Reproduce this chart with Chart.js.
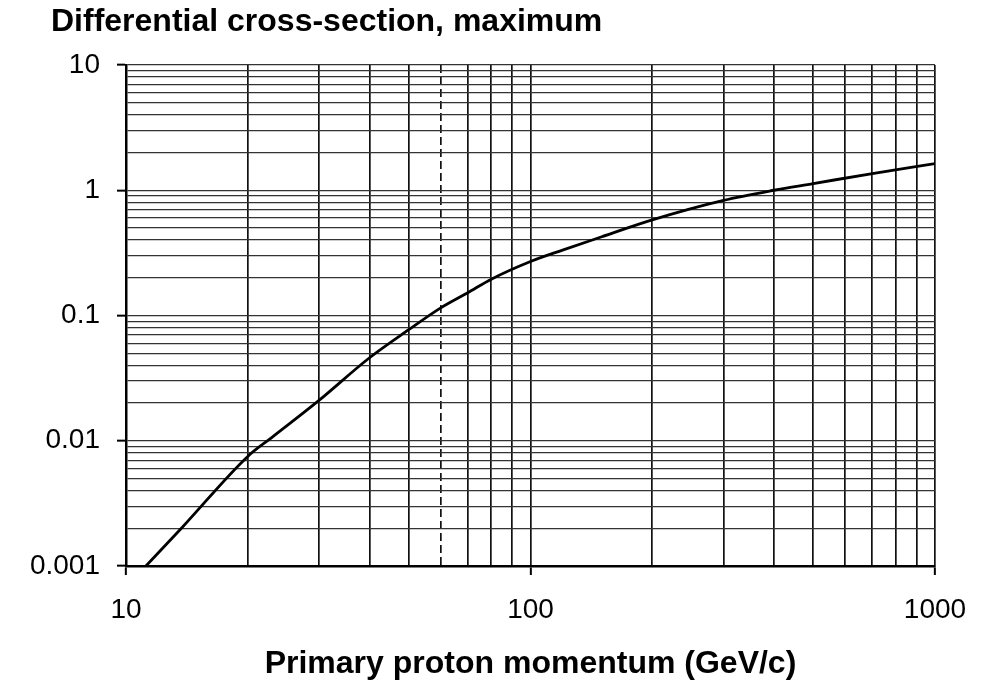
<!DOCTYPE html>
<html>
<head>
<meta charset="utf-8">
<script src="https://cdn.jsdelivr.net/npm/chart.js@4/dist/chart.umd.min.js"></script>
<style>
  html, body { margin: 0; padding: 0; background: #fff; }
  #wrap { width: 989px; height: 684px; }
</style>
</head>
<body>
<div id="wrap"><canvas id="crossChart"></canvas></div>
<script>
// curve (momentum GeV/c -> max differential cross-section)
const momentum = [11.2, 13.8, 20, 23, 30, 40, 50, 60, 70, 80, 100, 120, 150, 200, 300, 400, 500, 700, 1000];
const crossSection = [0.001, 0.00205, 0.0075, 0.0107, 0.021, 0.046, 0.077, 0.115, 0.152, 0.195, 0.27, 0.333, 0.425, 0.58, 0.83, 1.0, 1.13, 1.36, 1.63];

// axis labels (only decades get a label)
const xLabelValues = [10, 100, 1000];
const xLabels = ['10', '100', '1000'];
const yLabelValues = [0.001, 0.01, 0.1, 1, 10];
const yLabels = ['0.001', '0.01', '0.1', '1', '10'];

// grid lines: 1..9 in every decade
const multipliers = [1, 2, 3, 4, 5, 6, 7, 8, 9];
const xDecades = [10, 100];
const yDecades = [0.001, 0.01, 0.1, 1];

function gridValues(decades, last) {
  const out = [];
  decades.forEach(d => multipliers.forEach(m => out.push(Number((d * m).toPrecision(3)))));
  out.push(last);
  return out;
}
const xGrid = gridValues(xDecades, 1000);
const yGrid = gridValues(yDecades, 10);

function labelFor(value, values, labels) {
  const i = values.findIndex(v => Math.abs(v - value) / v < 1e-6);
  return i >= 0 ? labels[i] : '';
}

const FONT = "'Liberation Sans', Arial, Helvetica, sans-serif";

// title sits top-left, above the y labels, so draw it by hand
const cornerTitle = {
  id: 'cornerTitle',
  afterDraw(chart, args, opts) {
    const c = chart.ctx;
    c.save();
    c.font = 'bold 32px ' + FONT;
    c.fillStyle = '#000';
    c.textAlign = 'left';
    c.textBaseline = 'middle';
    c.fillText(opts.text, opts.x, opts.y);
    c.restore();
  }
};

const ctx = document.getElementById('crossChart').getContext('2d');
new Chart(ctx, {
  type: 'line',
  data: {
    datasets: [{
      data: momentum.map((x, i) => ({ x, y: crossSection[i] })),
      borderColor: '#000',
      borderWidth: 2.8,
      pointRadius: 0,
      cubicInterpolationMode: 'monotone',
      fill: false
    }]
  },
  plugins: [cornerTitle],
  options: {
    responsive: true,
    maintainAspectRatio: false,
    animation: false,
    layout: { padding: { left: 0, right: 54, top: 65, bottom: 0 } },
    plugins: {
      legend: { display: false },
      tooltip: { enabled: false },
      cornerTitle: { text: 'Differential cross-section, maximum', x: 51, y: 22 }
    },
    scales: {
      x: {
        type: 'logarithmic',
        min: 10,
        max: 1000,
        afterBuildTicks: axis => { axis.ticks = xGrid.map(v => ({ value: v })); },
        afterFit: axis => { axis.height = 118; },
        ticks: {
          autoSkip: false,
          maxRotation: 0,
          padding: 18,
          color: '#000',
          font: { family: FONT, size: 28 },
          callback: v => labelFor(v, xLabelValues, xLabels)
        },
        grid: {
          color: '#111',
          lineWidth: 1.7,
          tickLength: 9,
          tickWidth: 2,
          tickColor: c => (c.tick && labelFor(c.tick.value, xLabelValues, xLabels)) ? '#000' : 'rgba(0,0,0,0)'
        },
        border: {
          color: '#000',
          width: 2.5,
          dash: c => (c.tick && c.tick.value === 60) ? [8, 4] : []
        },
        title: {
          display: true,
          text: 'Primary proton momentum (GeV/c)',
          color: '#000',
          font: { family: FONT, size: 32, weight: 'bold' },
          padding: { top: 0, bottom: 1 }
        }
      },
      y: {
        type: 'logarithmic',
        min: 0.001,
        max: 10,
        afterBuildTicks: axis => { axis.ticks = yGrid.map(v => ({ value: v })); },
        afterFit: axis => { axis.width = 126; },
        ticks: {
          autoSkip: false,
          padding: 17,
          color: '#000',
          font: { family: FONT, size: 28 },
          callback: v => labelFor(v, yLabelValues, yLabels)
        },
        grid: {
          color: '#333',
          lineWidth: 1.3,
          tickLength: 9,
          tickWidth: 2,
          tickColor: c => (c.tick && labelFor(c.tick.value, yLabelValues, yLabels)) ? '#000' : 'rgba(0,0,0,0)'
        },
        border: { color: '#000', width: 2.5 }
      }
    }
  }
});
</script>
</body>
</html>
